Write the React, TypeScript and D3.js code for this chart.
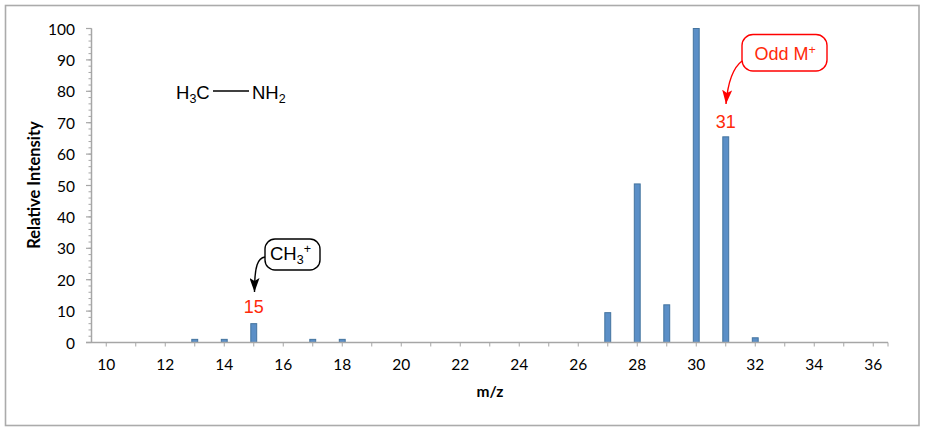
import React from 'react';
import * as d3 from 'd3';

const mzValues = d3.range(10, 37);
const peakMz = [13, 14, 15, 17, 18, 27, 28, 29, 30, 31, 32];
const peakIntensity = [1, 1, 6, 1, 1, 9.5, 50.5, 12, 100, 65.5, 1.5];
const yTicks = d3.range(0, 101, 10);
const yMinorTicks = d3.range(0, 101, 2);

const tickFont = 'Lato, sans-serif';
const noteFont = '"Liberation Sans", Arial, sans-serif';
const axisGray = '#a6a6a6';

const x = d3.scaleBand<number>().domain(mzValues).range([91.5, 888]).paddingInner(0.8).paddingOuter(0.4);
const y = d3.scaleLinear().domain([0, 100]).range([342.5, 28.5]);
const cx = (m: number) => (x(m) as number) + x.bandwidth() / 2;

export default function App() {
  return (
    <svg width={927} height={431} style={{ position: 'absolute', left: 0, top: 0, background: '#fff' }}>
      <defs>
        <marker id="headBlack" viewBox="0 0 14 10" refX="14" refY="5" markerWidth="14" markerHeight="10" markerUnits="userSpaceOnUse" orient="auto">
          <path d="M0,0 L14,5 L0,10 L3,5 Z" fill="#000" />
        </marker>
        <marker id="headRed" viewBox="0 0 14 10" refX="14" refY="5" markerWidth="14" markerHeight="10" markerUnits="userSpaceOnUse" orient="auto">
          <path d="M0,0 L14,5 L0,10 L3,5 Z" fill="#ff0000" />
        </marker>
      </defs>

      <rect x={5.5} y={5.5} width={913.5} height={420} fill="#fff" stroke="#ababab" strokeWidth={1.6} />

      {/* bars */}
      {peakMz.map((m, i) => (
        <rect
          key={m}
          x={x(m)}
          y={y(peakIntensity[i])}
          width={x.bandwidth()}
          height={y(0) - y(peakIntensity[i])}
          fill="#5b8fc7"
          stroke="#44749f"
          strokeWidth={1}
        />
      ))}

      {/* y axis */}
      <line x1={91.5} x2={91.5} y1={y(100)} y2={y(0)} stroke={axisGray} strokeWidth={1.5} />
      {yMinorTicks.map((t) => (
        <line key={t} x1={88.5} x2={91.5} y1={y(t)} y2={y(t)} stroke={axisGray} strokeWidth={1} />
      ))}
      {yTicks.map((t) => (
        <g key={t}>
          <line x1={86} x2={91.5} y1={y(t)} y2={y(t)} stroke={axisGray} strokeWidth={1.2} />
          <text x={75} y={y(t) + 6} textAnchor="end" fontFamily={tickFont} fontSize={15.5} fill="#000">{t}</text>
        </g>
      ))}

      {/* x axis */}
      <line x1={86} x2={888} y1={y(0)} y2={y(0)} stroke={axisGray} strokeWidth={1.5} />
      {mzValues.map((m) => (
        <line key={m} x1={cx(m)} x2={cx(m)} y1={y(0)} y2={y(0) + 4} stroke={axisGray} strokeWidth={1} />
      ))}
      <line x1={888} x2={888} y1={y(0)} y2={y(0) + 4} stroke={axisGray} strokeWidth={1} />
      {mzValues.filter((m) => m % 2 === 0).map((m) => (
        <text key={m} x={cx(m)} y={370} textAnchor="middle" fontFamily={tickFont} fontSize={15.5} fill="#000">{m}</text>
      ))}

      <text x={490} y={397} textAnchor="middle" fontFamily={tickFont} fontSize={15.5} fontWeight={700} fill="#000">m/z</text>
      <text transform="translate(40,185) rotate(-90)" textAnchor="middle" fontFamily={tickFont} fontSize={16.5} fontWeight={700} fill="#000">Relative Intensity</text>

      {/* methylamine structure */}
      <text x={176} y={99} fontFamily={noteFont} fontSize={18.5} fill="#000">
        H<tspan fontSize={12.5} dy={4}>3</tspan><tspan dy={-4}>C</tspan>
      </text>
      <line x1={213} x2={249} y1={91} y2={91} stroke="#000" strokeWidth={1.3} />
      <text x={252} y={99} fontFamily={noteFont} fontSize={18.5} fill="#000">
        NH<tspan fontSize={12.5} dy={4}>2</tspan>
      </text>

      {/* CH3+ callout */}
      <rect x={265} y={239} width={55} height={31} rx={10} fill="#fff" stroke="#000" strokeWidth={1.4} />
      <text x={270} y={259.5} fontFamily={noteFont} fontSize={18.5} fill="#000">
        CH<tspan fontSize={12.5} dy={4}>3</tspan><tspan fontSize={12.5} dy={-11}>+</tspan>
      </text>
      <path d="M265,257 C258,258 254.5,265 254.5,292" fill="none" stroke="#000" strokeWidth={1.4} markerEnd="url(#headBlack)" />
      <text x={cx(15)} y={313} textAnchor="middle" fontFamily={noteFont} fontSize={18} fill="#ff2a0a">15</text>

      {/* Odd M+ callout */}
      <rect x={742} y={34.5} width={85} height={36.5} rx={11} fill="#fff" stroke="#ff0000" strokeWidth={1.4} />
      <text x={754.5} y={60} fontFamily={noteFont} fontSize={18} fill="#ff2a0a">
        Odd M<tspan fontSize={12.5} dy={-6}>+</tspan>
      </text>
      <path d="M742,61 C734,67 728,80 726,104" fill="none" stroke="#ff0000" strokeWidth={1.4} markerEnd="url(#headRed)" />
      <text x={cx(31)} y={128} textAnchor="middle" fontFamily={noteFont} fontSize={18} fill="#ff2a0a">31</text>
    </svg>
  );
}
